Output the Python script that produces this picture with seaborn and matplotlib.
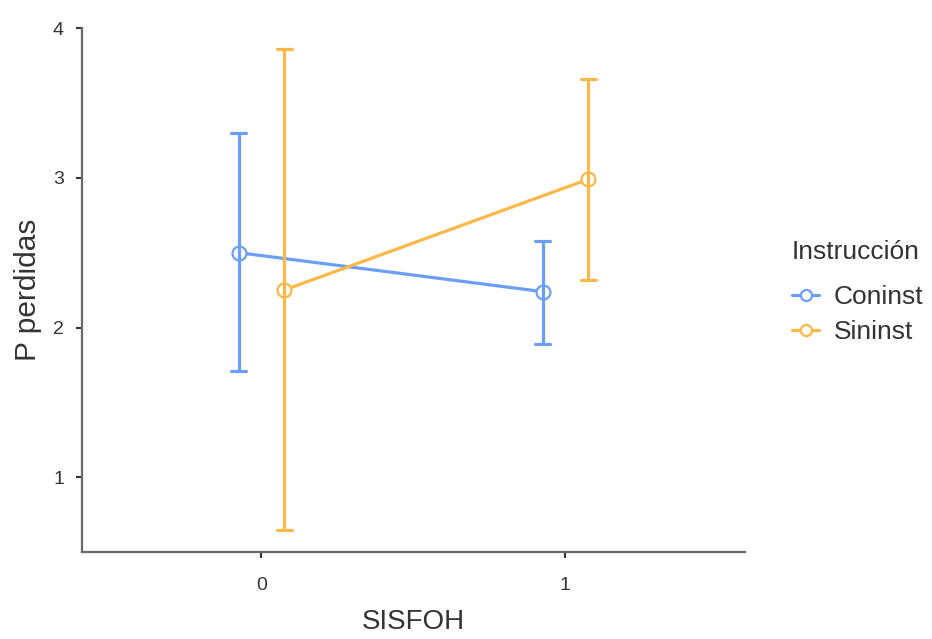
import matplotlib
matplotlib.use("Agg")
import matplotlib.pyplot as plt
import seaborn as sns
import pandas as pd

# ---- data ----
sisfoh = ["0", "1"]
groups = ["Coninst", "Sininst"]
mean_coninst = [2.50, 2.24]
low_coninst = [1.71, 1.89]
high_coninst = [3.30, 2.58]
mean_sininst = [2.25, 2.99]
low_sininst = [0.65, 2.32]
high_sininst = [3.86, 3.66]

rows = []
for g, m, lo, hi in [("Coninst", mean_coninst, low_coninst, high_coninst),
                     ("Sininst", mean_sininst, low_sininst, high_sininst)]:
    for i, s in enumerate(sisfoh):
        for v in (lo[i], m[i], hi[i]):
            rows.append({"SISFOH": s, "Instrucción": g, "val": v})
df = pd.DataFrame(rows)

sns.set_style("white")
plt.rcParams["font.family"] = ["Liberation Sans", "DejaVu Sans"]

palette = {"Coninst": "#6B9EFA", "Sininst": "#FBB848"}
gray = "#6a6a6a"
txt = "#333333"

fig = plt.figure(figsize=(9.32, 6.39), dpi=100)
ax = fig.add_axes([0.088, 0.136, 0.711, 0.820])

sns.pointplot(data=df, x="SISFOH", y="val", hue="Instrucción", order=sisfoh,
              hue_order=groups, palette=palette, dodge=0.15,
              estimator="median", errorbar=lambda v: (v.min(), v.max()),
              capsize=0.05, markers="o", linewidth=2.3, markersize=10,
              markerfacecolor="white", markeredgewidth=1.6,
              err_kws={"linewidth": 2.3}, ax=ax)

ax.set_xlim(-0.59, 1.59)
ax.set_ylim(0.5, 4.0)
ax.set_yticks([1, 2, 3, 4])
ax.set_xlabel("SISFOH", fontsize=20, color=txt, labelpad=11)
ax.set_ylabel("P perdidas", fontsize=21.5, color=txt, labelpad=8)

for s in ["top", "right"]:
    ax.spines[s].set_visible(False)
for s in ["left", "bottom"]:
    ax.spines[s].set_color(gray)
    ax.spines[s].set_linewidth(1.6)
ax.tick_params(axis="both", bottom=True, left=True, length=4, width=1.5,
               color="#333333", labelsize=14, labelcolor=txt, pad=9)
ax.tick_params(axis="x", pad=14)

leg = ax.legend(title="Instrucción", loc="upper left", bbox_to_anchor=(1.051, 0.62),
                frameon=False, fontsize=19, title_fontsize=19,
                handlelength=1.05, handletextpad=0.55, labelspacing=0.42,
                borderpad=0.0)
leg.get_title().set_color(txt)
leg._legend_box.align = "left"
leg._legend_box.sep = 15
for t in leg.get_texts():
    t.set_color(txt)
for h in leg.legend_handles:
    h.set_markersize(8)

fig.savefig("out.png", dpi=100)
